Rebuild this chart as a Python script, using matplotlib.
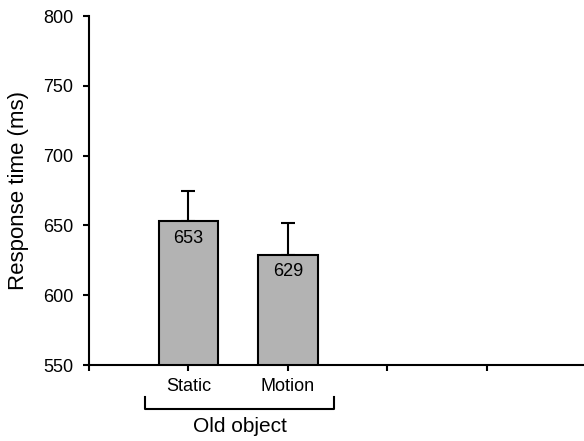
import matplotlib
matplotlib.use("Agg")
import matplotlib.pyplot as plt
import matplotlib.transforms as mtransforms

# data
categories = ["Static", "Motion"]
positions = [1, 2]
rt_values = [653, 629]
rt_errors = [22, 23]
group_label = "Old object"

plt.rcParams["font.family"] = ["Liberation Sans", "DejaVu Sans"]

fig = plt.figure(figsize=(5.84, 4.41), dpi=100)
ax = fig.add_axes([0.1524, 0.1723, 0.8476, 0.7914])

ax.bar(positions, rt_values, width=0.6, color="#b3b3b3", edgecolor="black",
       linewidth=1.5, zorder=2)
ax.errorbar(positions, rt_values, yerr=[[0, 0], rt_errors], fmt="none",
            ecolor="black", elinewidth=1.5, capsize=4.7, capthick=1.5, zorder=1)

# value inside each bar
for x, v in zip(positions, rt_values):
    ax.text(x, v - 6, str(v), ha="center", va="top", fontsize=13)

ax.set_xlim(0, 4.98)
ax.set_ylim(550, 800)
ax.set_yticks([550, 600, 650, 700, 750, 800])
ax.set_xticks([0, 1, 2, 3, 4])
ax.set_xticklabels(["", "Static", "Motion", "", ""])
ax.tick_params(axis="both", direction="out", length=4.3, width=1.5, labelsize=13)
ax.tick_params(axis="y", pad=7)
ax.tick_params(axis="x", pad=5)
ax.set_ylabel("Response time (ms)", fontsize=16)
ax.yaxis.label.set_va("center")
ax.yaxis.set_label_coords(-0.1434, 0.5)

ax.spines["top"].set_visible(False)
ax.spines["right"].set_visible(False)
ax.spines["left"].set_linewidth(1.5)
ax.spines["bottom"].set_linewidth(1.5)

# bracket under the two bars
trans = mtransforms.blended_transform_factory(ax.transData, ax.transAxes)
ax.plot([0.563, 0.563, 2.462, 2.462], [-0.0917, -0.126, -0.126, -0.0917],
        color="black", linewidth=1.5, transform=trans, clip_on=False)
ax.text(1.518, -0.150, group_label, transform=trans, ha="center", va="top",
        fontsize=15)

fig.savefig("out.png", dpi=100)
plt.close(fig)
